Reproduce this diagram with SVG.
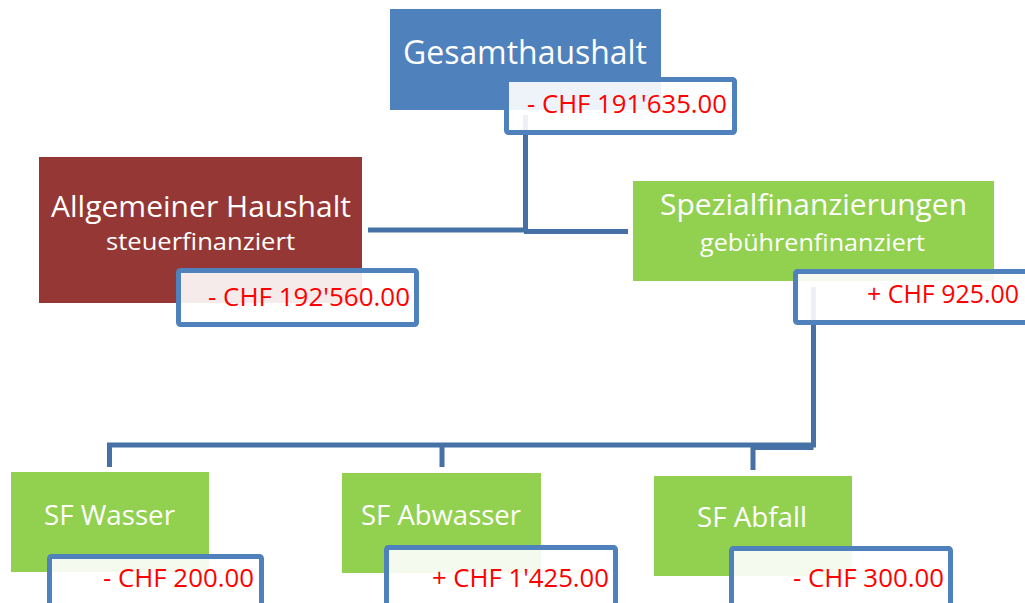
<svg xmlns="http://www.w3.org/2000/svg" width="1025" height="603" viewBox="0 0 1025 603">
<style>
.conn{fill:none;stroke:#4571a6;stroke-width:5;stroke-linejoin:miter}
.val{fill:#ffffff;fill-opacity:0.9;stroke:#4f81bd;stroke-width:5}
.t{font-family:"Open Sans","Liberation Sans",sans-serif;fill:#ffffff}
.v{font-family:"Open Sans","Liberation Sans",sans-serif;fill:#ff0000;font-size:25px}
</style>
<rect width="1025" height="603" fill="#ffffff"/>
<g id="connectors">
<polyline class="conn" points="525.5,115 525.5,231"/>
<polyline class="conn" points="368,230 527,230"/>
<polyline class="conn" points="524,231.5 628,231.5"/>
<polyline class="conn" points="109.5,467 109.5,445 813.5,445 813.5,287"/>
<polyline class="conn" points="442,445 442,467"/>
<polyline class="conn" points="813.5,447.5 753,447.5 753,470"/>
</g>
<g id="gesamthaushalt">
<rect x="390" y="9" width="271" height="101" fill="#4f81bd"/>
<rect class="val" x="506.5" y="79.5" width="228" height="53" rx="2"/>
<text class="t" x="403" y="64" font-size="32" textLength="244" lengthAdjust="spacingAndGlyphs">Gesamthaushalt</text>
<text class="v" x="727" y="113" text-anchor="end" textLength="200" lengthAdjust="spacingAndGlyphs">- CHF 191'635.00</text>
</g>
<g id="allgemeiner-haushalt">
<rect x="39" y="157" width="323" height="146" fill="#953735"/>
<rect class="val" x="178.5" y="270.5" width="238" height="54" rx="2"/>
<text class="t" x="51" y="217" font-size="30" textLength="300" lengthAdjust="spacingAndGlyphs">Allgemeiner Haushalt</text>
<text class="t" x="106" y="250" font-size="24" textLength="189" lengthAdjust="spacingAndGlyphs">steuerfinanziert</text>
<text class="v" x="410" y="306" text-anchor="end" textLength="202" lengthAdjust="spacingAndGlyphs">- CHF 192'560.00</text>
</g>
<g id="spezialfinanzierungen">
<rect x="633" y="181" width="361" height="100" fill="#92d050"/>
<rect class="val" x="795.5" y="271.5" width="240" height="51" rx="2"/>
<text class="t" x="660" y="215" font-size="30" textLength="307" lengthAdjust="spacingAndGlyphs">Spezialfinanzierungen</text>
<text class="t" x="700" y="251" font-size="24" textLength="225" lengthAdjust="spacingAndGlyphs">gebührenfinanziert</text>
<text class="v" x="1019" y="303" text-anchor="end" textLength="152" lengthAdjust="spacingAndGlyphs">+ CHF 925.00</text>
</g>
<g id="sf-wasser">
<rect x="11" y="472" width="198" height="100" fill="#92d050"/>
<rect class="val" x="49.5" y="556.5" width="212" height="60" rx="2"/>
<text class="t" x="44" y="525" font-size="28" textLength="131" lengthAdjust="spacingAndGlyphs">SF Wasser</text>
<text class="v" x="254" y="587" text-anchor="end" textLength="151" lengthAdjust="spacingAndGlyphs">- CHF 200.00</text>
</g>
<g id="sf-abwasser">
<rect x="342" y="473" width="199" height="100" fill="#92d050"/>
<rect class="val" x="386.5" y="547.5" width="229" height="70" rx="2"/>
<text class="t" x="361" y="525" font-size="28" textLength="160" lengthAdjust="spacingAndGlyphs">SF Abwasser</text>
<text class="v" x="609" y="587" text-anchor="end" textLength="177" lengthAdjust="spacingAndGlyphs">+ CHF 1'425.00</text>
</g>
<g id="sf-abfall">
<rect x="654" y="476" width="198" height="100" fill="#92d050"/>
<rect class="val" x="731.5" y="548.5" width="219" height="70" rx="2"/>
<text class="t" x="697" y="527" font-size="28" textLength="110" lengthAdjust="spacingAndGlyphs">SF Abfall</text>
<text class="v" x="944" y="587" text-anchor="end" textLength="151" lengthAdjust="spacingAndGlyphs">- CHF 300.00</text>
</g>
</svg>
